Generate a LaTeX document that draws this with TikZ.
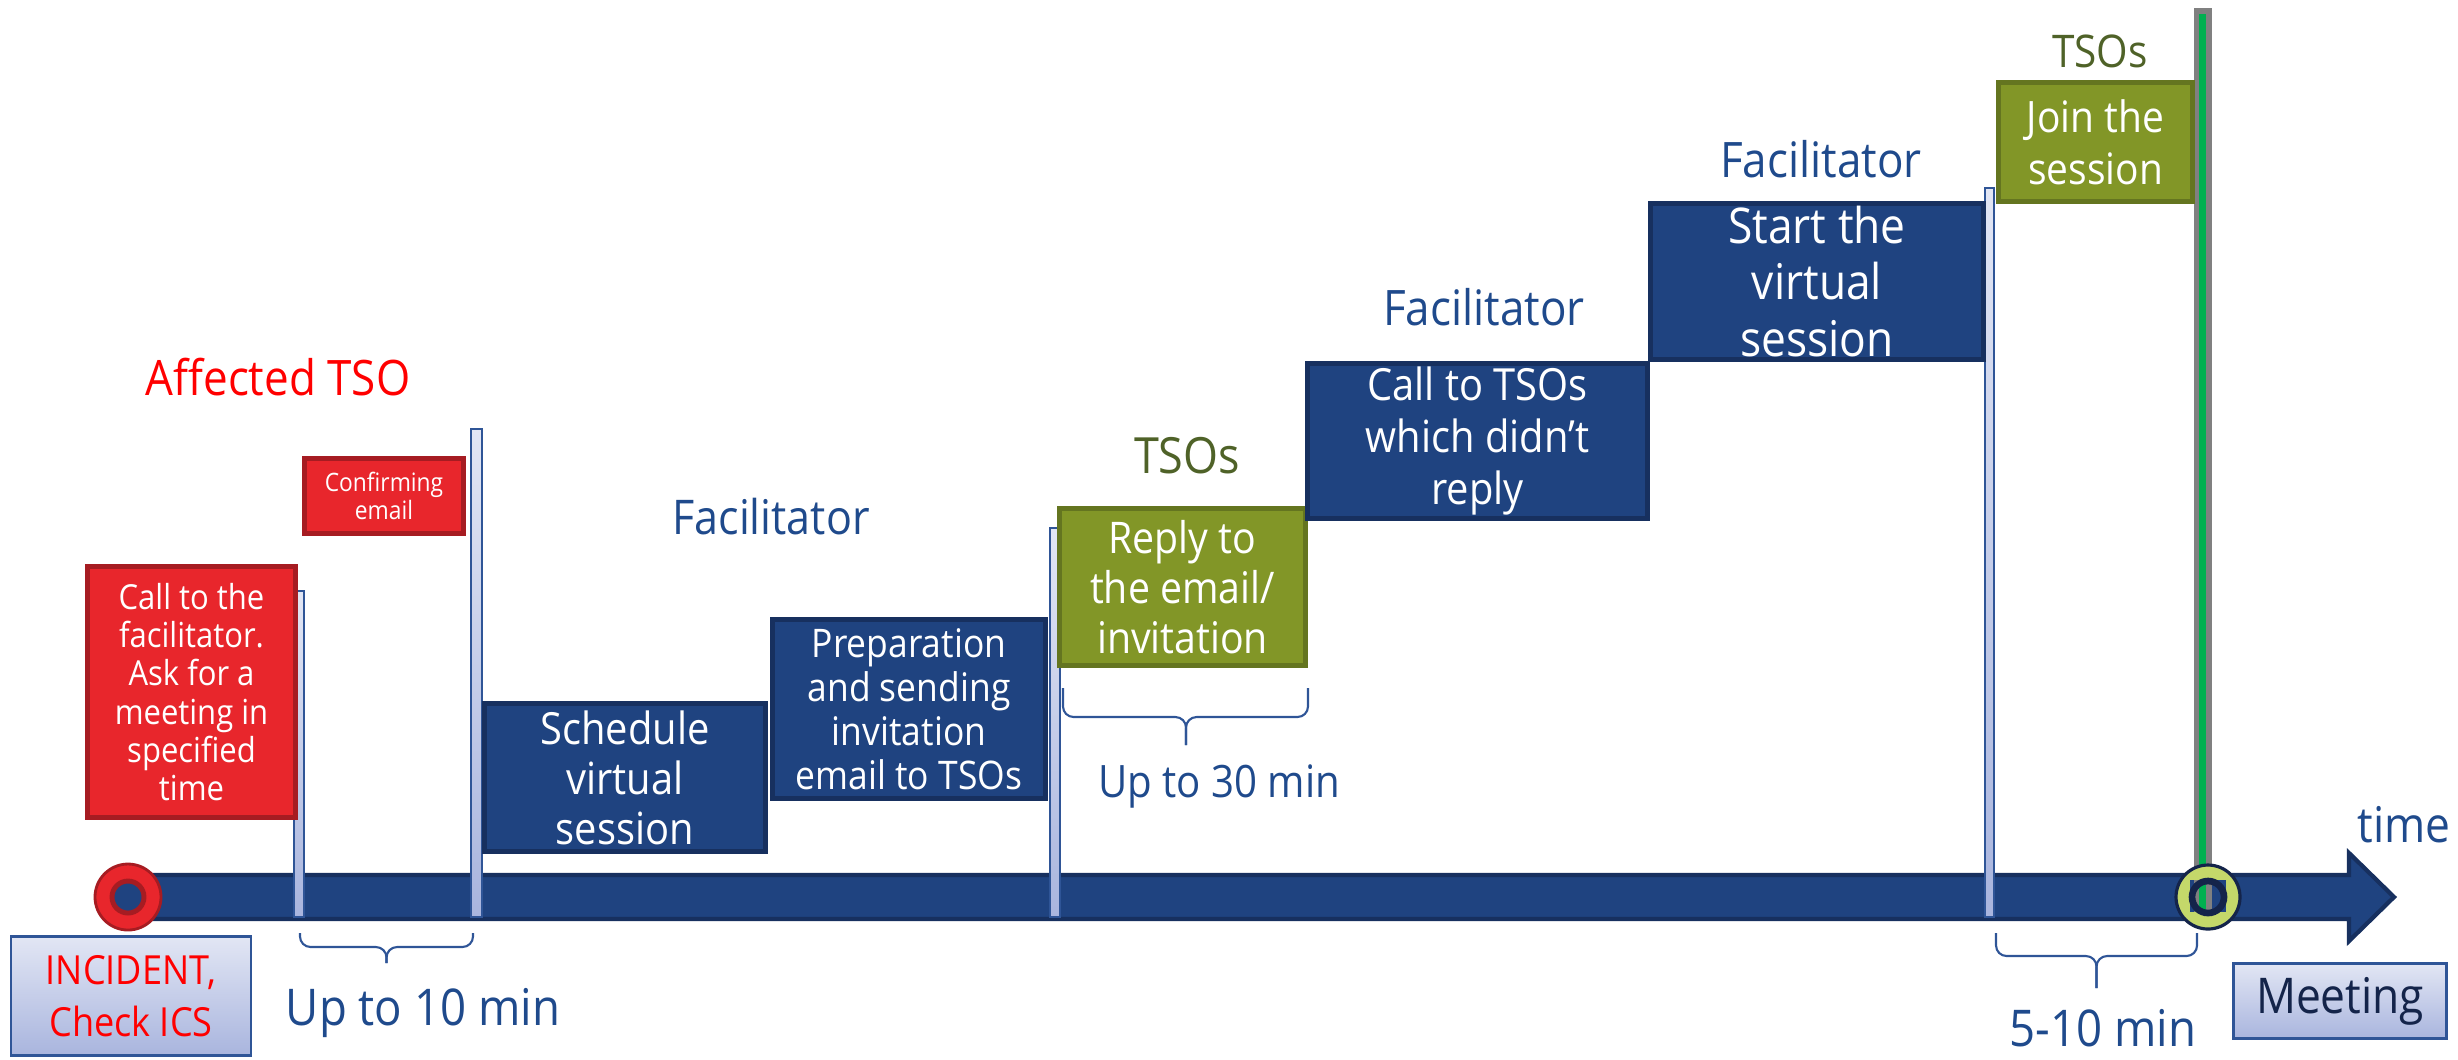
\documentclass[tikz,border=0pt]{standalone}
\usepackage{fontspec}
\setmainfont{Open Sans}[FakeStretch=0.9]

\definecolor{tlblue}{HTML}{1F4380}
\definecolor{tlbluedark}{HTML}{17305F}
\definecolor{tlred}{HTML}{E8262C}
\definecolor{tlreddark}{HTML}{A61C22}
\definecolor{tlgreen}{HTML}{829627}
\definecolor{tlgreendark}{HTML}{647520}
\definecolor{labred}{HTML}{FF0000}
\definecolor{labblue}{HTML}{1F4A8C}
\definecolor{labolive}{HTML}{4F6228}
\definecolor{postedge}{HTML}{2F5597}
\definecolor{posttop}{HTML}{E2E6F4}
\definecolor{postbot}{HTML}{A9B5DE}
\definecolor{meetring}{HTML}{C4D86A}
\definecolor{meetdark}{HTML}{14244A}
\definecolor{linegray}{HTML}{808080}
\definecolor{linegreen}{HTML}{00B050}

\newcommand{\fsz}[2]{\fontsize{#1}{#2}\selectfont}

\tikzset{
  stepbox/.style={draw, line width=1.4pt, inner sep=0pt, align=center, text=white},
  redbox/.style={stepbox, fill=tlred, draw=tlreddark},
  bluebox/.style={stepbox, fill=tlblue, draw=tlbluedark},
  greenbox/.style={stepbox, fill=tlgreen, draw=tlgreendark},
  endbox/.style={draw=postedge, line width=0.7pt, top color=posttop, bottom color=postbot, inner sep=0pt, align=center},
  post/.style={draw=postedge, line width=0.45pt, top color=posttop, bottom color=postbot},
  role/.style={anchor=base, inner sep=0pt},
  timebrace/.style={draw=postedge, line width=0.6pt, rounded corners=3pt},
}

\begin{document}
\begin{tikzpicture}[x=0.01cm, y=-0.01cm]
\useasboundingbox (0,0) rectangle (2458,1059);

% meeting line
\fill[linegray] (2194,8) rectangle (2212,910);
\fill[linegreen] (2199,14) rectangle (2206,910);

% time axis
\draw[fill=tlblue, draw=tlbluedark, line width=1.2pt] (128,875) -- (2349,875) -- (2349,853) -- (2394,897) -- (2349,941) -- (2349,919) -- (128,919) -- cycle;

% posts
\shade[post] (294,591) rectangle (304,917);
\shade[post] (471,429) rectangle (482,917);
\shade[post] (1050,528) rectangle (1060,917);
\shade[post] (1985,188) rectangle (1994,917);

% steps
\node[redbox, minimum width=2.08cm, minimum height=2.51cm, font=\fsz{9.8}{10.9}] (call) at (191.5,692) {Call to the\\facilitator.\\Ask for a\\meeting in\\specified\\time};
\node[redbox, minimum width=1.59cm, minimum height=0.75cm, font=\fsz{7.2}{8}] (confirm) at (384,496) {Confirming\\email};
\node[bluebox, minimum width=2.81cm, minimum height=1.48cm, font=\fsz{12.6}{14.2}] (schedule) at (625,777.5) {Schedule\\virtual\\session};
\node[bluebox, minimum width=2.73cm, minimum height=1.79cm, font=\fsz{11.2}{12.5}] (prepare) at (909,709) {Preparation\\and sending\\invitation\\email to TSOs};
\node[greenbox, minimum width=2.46cm, minimum height=1.57cm, font=\fsz{12.4}{14.2}] (reply) at (1182.5,587) {Reply to\\the email/\\invitation};
\node[bluebox, minimum width=3.40cm, minimum height=1.55cm, font=\fsz{12.6}{14.8}] (calltsos) at (1477.5,441) {Call to TSOs\\which didn’t\\reply};
\node[bluebox, minimum width=3.33cm, minimum height=1.56cm, font=\fsz{14}{16.2}] (startsession) at (1817,281.5) {Start the\\virtual\\session};
\node[greenbox, minimum width=1.94cm, minimum height=1.19cm, font=\fsz{12.3}{14.8}] (join) at (2095.5,142) {Join the\\session};

% start and end
\node[endbox, minimum width=2.40cm, minimum height=1.19cm, text=labred, font=\fsz{11.4}{14.8}] (incident) at (131,996) {INCIDENT,\\Check ICS};
\node[endbox, minimum width=2.13cm, minimum height=0.75cm, text=meetdark, font=\fsz{14}{16}] (meeting) at (2340,1001) {Meeting};

% circles
\filldraw[fill=tlred, draw=tlreddark, line width=0.8pt] (128,897) circle (33);
\filldraw[fill=tlblue, draw=tlreddark, line width=1.4pt] (128,897) circle (16);
\filldraw[fill=meetring, draw=meetdark, line width=0.9pt] (2208,897) circle (32);
\fill[tlblue] (2190,880) rectangle (2226,912);
\fill[linegray] (2194,880) rectangle (2212,912);
\fill[linegreen] (2199,880) rectangle (2206,910);
\draw[meetdark, line width=1.9pt] (2208,897) circle (16);

% roles
\node[role, text=labred, font=\fsz{13.9}{16}] (affected) at (278,395) {Affected TSO};
\node[role, text=labblue, font=\fsz{13.6}{16}] (facil1) at (771,534) {Facilitator};
\node[role, text=labolive, font=\fsz{14.2}{16}] (tsos1) at (1187,473) {TSOs};
\node[role, text=labblue, font=\fsz{13.9}{16}] (facil2) at (1484,325) {Facilitator};
\node[role, text=labblue, font=\fsz{13.9}{16}] (facil3) at (1821,177) {Facilitator};
\node[role, text=labolive, font=\fsz{12.8}{14}] (tsos2) at (2100,67) {TSOs};

% durations
\coordinate (b1l) at (300,933);
\coordinate (b1r) at (473,933);
\coordinate (b1m) at (386.5,947);
\coordinate (b1t) at (386.5,963);
\coordinate (b2l) at (1063,688);
\coordinate (b2r) at (1308,688);
\coordinate (b2m) at (1186,717);
\coordinate (b2t) at (1186,745);
\coordinate (b3l) at (1996,933);
\coordinate (b3r) at (2197,933);
\coordinate (b3m) at (2096.5,956);
\coordinate (b3t) at (2096.5,988);
\draw[timebrace] (b1l) |- (b1m) -- (b1t);
\draw[timebrace] (b1r) |- (b1m) -- (b1t);
\draw[timebrace] (b2l) |- (b2m) -- (b2t);
\draw[timebrace] (b2r) |- (b2m) -- (b2t);
\draw[timebrace] (b3l) |- (b3m) -- (b3t);
\draw[timebrace] (b3r) |- (b3m) -- (b3t);
\node[role, text=labblue, font=\fsz{14.4}{16}] (up10) at (423,1025) {Up to 10 min};
\node[role, text=labblue, font=\fsz{12.7}{15}] (up30) at (1219,797) {Up to 30 min};
\node[role, text=labblue, font=\fsz{14.4}{16}] (fiveten) at (2103,1046) {5-10 min};
\node[role, text=labblue, font=\fsz{14}{16}] (time) at (2404,842) {time};
\end{tikzpicture}
\end{document}
